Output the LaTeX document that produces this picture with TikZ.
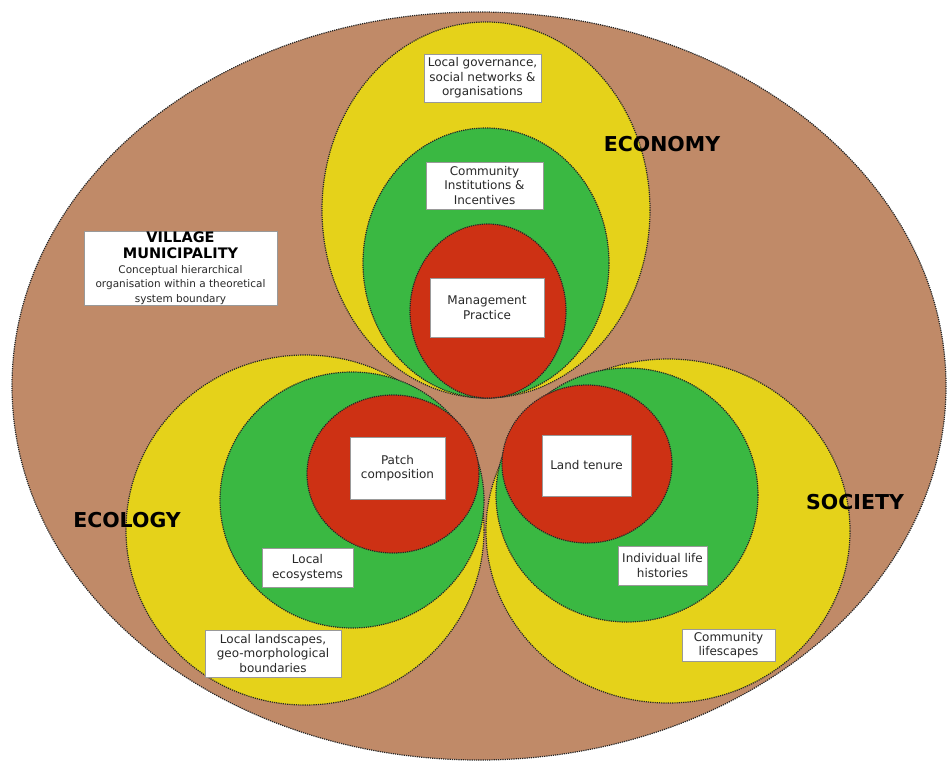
\documentclass[tikz,border=0pt]{standalone}
\usepackage{fontspec}
\setmainfont{DejaVu Sans}
\definecolor{cbrown}{RGB}{192,138,104}
\definecolor{cyellow}{RGB}{229,210,26}
\definecolor{cgreen}{RGB}{58,184,66}
\definecolor{cred}{RGB}{205,49,20}
\definecolor{ctext}{RGB}{40,40,40}
\newcommand{\vtitle}{\fontsize{14.5}{16}\selectfont\bfseries\color{black}}
\newcommand{\vbody}{\fontsize{10.5}{12.2}\selectfont\color{ctext}}
\begin{document}
\begin{tikzpicture}[x=1pt,y=-1pt,
  ring/.style={draw=black!85,densely dotted,line width=1.2pt},
  labelbox/.style={fill=white,draw=black!40,line width=0.6pt,inner sep=0pt,align=center,
    text=ctext,font=\fontsize{12}{14.5}\selectfont},
  bigword/.style={font=\fontsize{20.5}{24}\selectfont\bfseries,text=black,inner sep=0pt}]
\useasboundingbox (0,0) rectangle (949,763);
% system boundary
\path[fill=cbrown,ring] (479,386) ellipse [x radius=467,y radius=374];
% ecology
\path[fill=cyellow,ring] (305,530) ellipse [x radius=179,y radius=175];
\path[fill=cgreen,ring] (352,500) ellipse [x radius=132,y radius=128];
\path[fill=cred,ring] (393,474) ellipse [x radius=86,y radius=79];
% society
\path[fill=cyellow,ring] (668,531) ellipse [x radius=182,y radius=172];
\path[fill=cgreen,ring] (627,495) ellipse [x radius=131,y radius=127];
\path[fill=cred,ring] (587,464) ellipse [x radius=85,y radius=79];
% economy
\path[fill=cyellow,ring] (486,210) ellipse [x radius=164,y radius=188];
\path[fill=cgreen,ring] (486,263) ellipse [x radius=123,y radius=135];
\path[fill=cred,ring] (488,311) ellipse [x radius=78,y radius=87];
% boxes
\node[labelbox,minimum width=117pt,minimum height=48pt] (gov) at (482.5,78) {Local governance,\\social networks \&\\organisations};
\node[labelbox,minimum width=117pt,minimum height=47pt] (inst) at (484.5,185.5) {Community\\Institutions \&\\Incentives};
\node[labelbox,minimum width=114pt,minimum height=59pt] (mgmt) at (487,307.5) {Management\\Practice};
\node[labelbox,minimum width=193pt,minimum height=74pt] (village) at (180.5,268) {\vtitle VILLAGE\\[1.5pt]\vtitle MUNICIPALITY\\[0pt]\vbody Conceptual hierarchical\\\vbody organisation within a theoretical\\\vbody system boundary};
\node[labelbox,minimum width=95pt,minimum height=62pt] (patch) at (397.5,468) {Patch\\composition};
\node[labelbox,minimum width=91pt,minimum height=39pt] (eco) at (307.5,567.5) {Local\\ecosystems};
\node[labelbox,minimum width=89pt,minimum height=61pt] (land) at (586.5,465.5) {Land tenure};
\node[labelbox,minimum width=89pt,minimum height=39pt] (life) at (662.5,565.5) {Individual life\\histories};
\node[labelbox,minimum width=136pt,minimum height=47pt] (landsc) at (273,653.5) {Local landscapes,\\geo-morphological\\boundaries};
\node[labelbox,minimum width=93pt,minimum height=32pt] (lifesc) at (728.5,645) {Community\\lifescapes};
% labels
\node[bigword] (economy) at (662,144) {ECONOMY};
\node[bigword] (ecology) at (127,520) {ECOLOGY};
\node[bigword] (society) at (855,502) {SOCIETY};
\end{tikzpicture}
\end{document}
